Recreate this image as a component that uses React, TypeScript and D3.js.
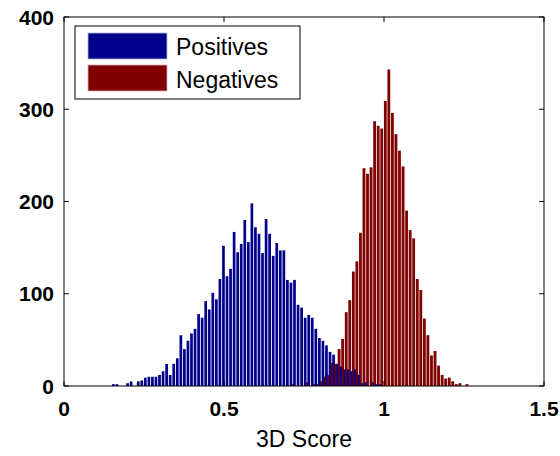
import * as d3 from "d3";

// histogram bins (left edge = start + i * binWidth)
const binWidth = 0.0111;
const positivesStart = 0.15;
const negativesStart = 0.7112;

const positives = [
  2, 2, 0, 0, 3, 5, 0, 5, 6, 9,
  10, 10, 10, 12, 16, 24, 12, 24, 30, 55,
  40, 49, 57, 62, 78, 74, 92, 83, 101, 94,
  116, 152, 119, 127, 167, 145, 154, 180, 156, 198,
  172, 165, 144, 181, 165, 141, 155, 147, 147, 115,
  112, 115, 88, 85, 74, 77, 74, 62, 52, 49,
  44, 37, 34, 24, 21, 18, 18, 16, 18, 12,
  3, 4, 0, 4, 2, 2,
];

const negatives = [
  2, 0, 0, 0, 4, 0, 2, 2,
  5, 10, 12, 25, 24, 40, 51, 80, 93, 124,
  135, 166, 236, 230, 237, 287, 282, 279, 309, 343,
  296, 273, 255, 238, 190, 169, 160, 116, 104, 73,
  55, 33, 38, 22, 12, 8, 9, 5, 2, 3,
  0, 2,
];

const xTicks = [0, 0.5, 1, 1.5];
const yTicks = [0, 100, 200, 300, 400];
const xTickLabels = ["0", "0.5", "1", "1.5"];
const seriesNames = ["Positives", "Negatives"];

const BLUE = "#00008c";
const RED = "#800000";

export default function App() {
  const width = 560;
  const height = 456;
  const left = 64, right = 544, top = 17, bottom = 386;

  const x = d3.scaleLinear().domain([0, 1.5]).range([left, right]);
  const y = d3.scaleLinear().domain([0, 400]).range([bottom, top]);

  const barW = (x(binWidth) - x(0)) * 0.76;

  const bars = (counts: number[], start: number, color: string, opacity = 1) =>
    counts.map((c, i) =>
      c > 0 ? (
        <rect
          key={i}
          x={x(start + i * binWidth)}
          y={y(c)}
          width={barW}
          height={y(0) - y(c)}
          fill={color}
          opacity={opacity}
        />
      ) : null
    );

  const tickFont = "'Liberation Sans', Arial, Helvetica, sans-serif";

  return (
    <svg
      width={width}
      height={height}
      style={{ position: "absolute", left: 0, top: 0, background: "#fff" }}
    >
      <rect x={0} y={0} width={width} height={height} fill="#fff" />
      <g>{bars(negatives, negativesStart, RED)}</g>
      <g>{bars(positives, positivesStart, BLUE)}</g>
      <g>{bars(negatives, negativesStart, RED, 0.35)}</g>

      {/* axes box */}
      <rect
        x={left}
        y={top}
        width={right - left}
        height={bottom - top}
        fill="none"
        stroke="#000"
        strokeWidth={1}
      />

      {xTicks.map((t, i) => (
        <g key={"xt" + i}>
          <line x1={x(t)} x2={x(t)} y1={bottom} y2={bottom - 5} stroke="#000" />
          <line x1={x(t)} x2={x(t)} y1={top} y2={top + 5} stroke="#000" />
          <text
            x={x(t)}
            y={416}
            textAnchor="middle"
            fontFamily={tickFont}
            fontSize={21}
            fontWeight="bold"
          >
            {xTickLabels[i]}
          </text>
        </g>
      ))}

      {yTicks.map((t, i) => (
        <g key={"yt" + i}>
          <line x1={left} x2={left + 5} y1={y(t)} y2={y(t)} stroke="#000" />
          <line x1={right} x2={right - 5} y1={y(t)} y2={y(t)} stroke="#000" />
          <text
            x={54}
            y={y(t) + 7.5}
            textAnchor="end"
            fontFamily={tickFont}
            fontSize={21}
            fontWeight="bold"
          >
            {t}
          </text>
        </g>
      ))}

      <text
        x={(left + right) / 2}
        y={447}
        textAnchor="middle"
        fontFamily={tickFont}
        fontSize={23}
      >
        3D Score
      </text>

      {/* legend */}
      <rect x={75} y={26} width={225} height={73} fill="#fff" stroke="#000" />
      <rect x={88} y={33} width={79} height={26} fill={BLUE} stroke="#b8b8e8" strokeWidth={0.8} />
      <rect x={88} y={65} width={79} height={26} fill={RED} stroke="#e0b0b0" strokeWidth={0.8} />
      <text x={176} y={55} fontFamily={tickFont} fontSize={23}>
        {seriesNames[0]}
      </text>
      <text x={176} y={88} fontFamily={tickFont} fontSize={23}>
        {seriesNames[1]}
      </text>
    </svg>
  );
}
